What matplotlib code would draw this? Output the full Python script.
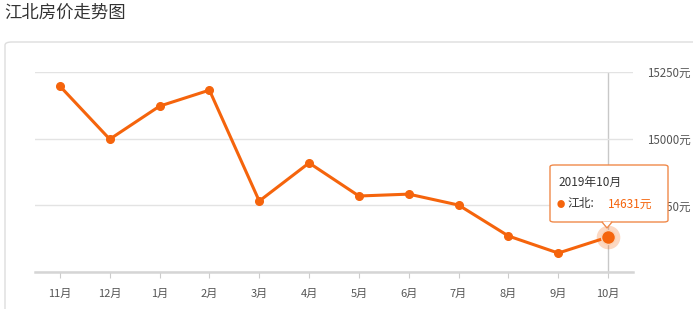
import matplotlib.pyplot as plt
from matplotlib.patches import FancyBboxPatch, Polygon

plt.rcParams['font.family'] = ['Noto Sans CJK SC', 'DejaVu Sans']

months = ['11月', '12月', '1月', '2月', '3月', '4月', '5月', '6月', '7月', '8月', '9月', '10月']
prices = [15197, 14998, 15122, 15182, 14766, 14909, 14785, 14792, 14751, 14635, 14571, 14631]
y_ticks = [14500, 14750, 15000, 15250]
y_labels = ['', '14750元', '15000元', '15250元']
tip_title = '2019年10月'
series_name = '江北'

W, H = 693, 309
fig = plt.figure(figsize=(W / 100, H / 100), dpi=100)
fig.patch.set_facecolor('white')

# outer frame, kept behind the axes
frame = FancyBboxPatch((5 / W, -0.05), 700 / W, (309 - 42) / H + 0.05,
                       boxstyle='round,pad=0,rounding_size=0.01',
                       transform=fig.transFigure, fc='white', ec='#dddddd', lw=1, zorder=-5)
fig.patches.append(frame)

fig.text(4 / W, 1 - 13 / H, '江北房价走势图', fontsize=12.5, color='#333333', va='center')

ax = fig.add_axes([35 / W, (309 - 272) / H, 598 / W, 200 / H])
ax.set_facecolor('none')
ax.set_zorder(1)
x = list(range(len(months)))
color = '#f5640c'
ax.plot(x, prices, color=color, lw=2.2, marker='o', ms=5.5, zorder=3)
ax.set_xlim(-0.5, len(months) - 0.5)
ax.set_ylim(14500, 15250)

ax.set_yticks(y_ticks)
ax.yaxis.tick_right()
ax.set_yticklabels(y_labels)
ax.grid(axis='y', color='#e3e3e3', lw=1)
ax.tick_params(axis='y', length=0, pad=10, labelsize=8.3, labelcolor='#555555')
ax.set_xticks(x)
ax.set_xticklabels(months)
ax.tick_params(axis='x', length=4, color='#cccccc', pad=8, labelsize=8, labelcolor='#555555')
for s in ['top', 'left', 'right']:
    ax.spines[s].set_visible(False)
ax.spines['bottom'].set_color('#d5d5d5')
ax.spines['bottom'].set_linewidth(1.8)

# hover crosshair and highlighted point
last = len(months) - 1
ax.axvline(last, color='#c8c8c8', lw=1, zorder=1)
ax.plot(last, prices[last], 'o', ms=17, color='#f5640c', alpha=0.25, mec='none', zorder=4)
ax.plot(last, prices[last], 'o', ms=10, color=color, mec='#fbd2b5', mew=1, zorder=5)

# tooltip
tx0, ty0, tw, th = 550, 165, 118, 57
box = FancyBboxPatch((tx0 / W, 1 - (ty0 + th) / H), tw / W, th / H,
                     boxstyle='round,pad=0,rounding_size=0.006',
                     transform=fig.transFigure, fc='white', ec='#f08a4b', lw=1, zorder=10)
fig.patches.append(box)
arrow = Polygon([(602 / W, 1 - 222 / H), (612 / W, 1 - 222 / H), (607 / W, 1 - 228 / H)],
                closed=True, transform=fig.transFigure, fc='white', ec='#f08a4b', lw=1, zorder=10)
fig.patches.append(arrow)
fig.patches.append(Polygon([(602.5 / W, 1 - 221.5 / H), (611.5 / W, 1 - 221.5 / H), (607 / W, 1 - 226 / H)],
                           closed=True, transform=fig.transFigure, fc='white', ec='none', zorder=11))
fig.text(558 / W, 1 - 182 / H, tip_title, fontsize=8.5, color='#333333', va='center', zorder=12)
fig.text(561 / W, 1 - 204 / H, '●', fontsize=6, color=color, va='center', ha='center', zorder=12)
fig.text(567 / W, 1 - 204 / H, series_name + ':', fontsize=8.5, color='#333333', va='center', zorder=12)
fig.text(608 / W, 1 - 204 / H, '%d元' % prices[last], fontsize=8.5, color=color, va='center', zorder=12)

fig.savefig('out.png', dpi=100)
